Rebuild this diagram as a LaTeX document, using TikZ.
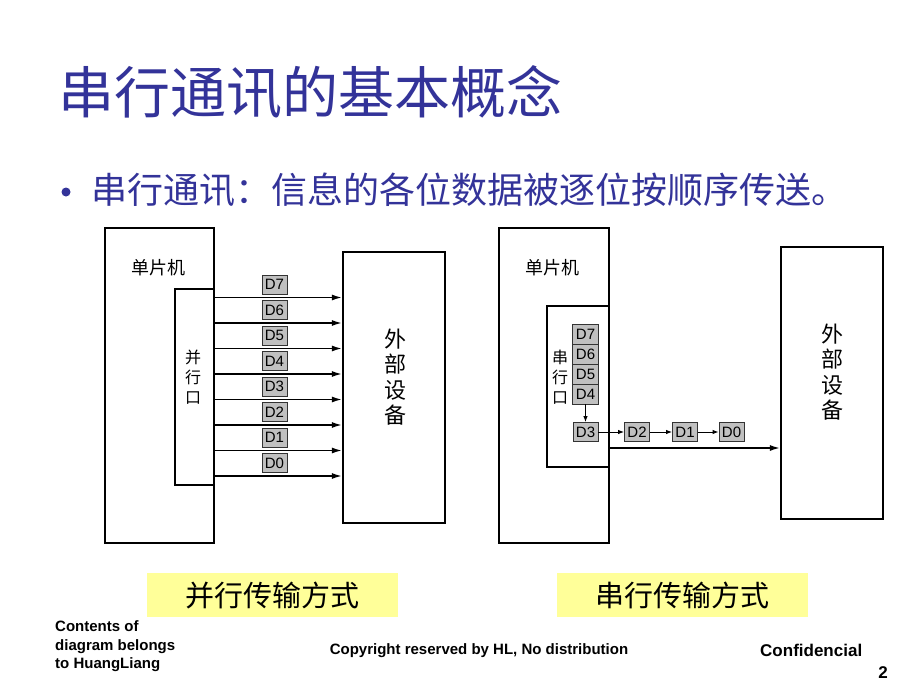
\documentclass[tikz,border=0pt]{standalone}
\usepackage{fontspec}
\setmainfont{Liberation Sans}
\newfontfamily\cjk{Noto Sans CJK SC}
\usetikzlibrary{arrows.meta}
\definecolor{T}{RGB}{51,51,153}
\definecolor{Y}{RGB}{255,255,153}
\definecolor{G}{RGB}{192,192,192}
\newcommand{\fs}[1]{\fontsize{#1}{#1}\selectfont}
\tikzset{
  box/.style={draw, line width=2.2pt, inner sep=0pt},
  portbox/.style={draw, line width=1.2pt, inner sep=0pt},
  databox/.style={draw=black!80, fill=G, line width=0.9pt, minimum width=25, minimum height=19, inner sep=0pt, font=\fs{15}},
  wire/.style={line width=1.5pt, -{Latex[length=10pt,width=6pt]}},
  shiftarrow/.style={line width=0.9pt, -{Latex[length=6pt,width=4.5pt]}},
  tag/.style={fill=Y, minimum width=251, minimum height=44, font=\cjk\fs{29}},
  vlabel/.style={align=center, inner sep=0pt},
}
\begin{document}
\begin{tikzpicture}[x=1pt,y=-1pt]
\fill[white] (0,0) rectangle (920,690);
\useasboundingbox (0,0) rectangle (920,690);
% title and bullet
\node[anchor=west, inner sep=0, text=T, font=\cjk\fs{56}] (title) at (58,92) {串行通讯的基本概念};
\node[circle, fill=T, minimum size=9, inner sep=0] (dot) at (66,192) {};
\node[anchor=west, inner sep=0, text=T, font=\cjk\fs{36}] (bullet) at (91,190) {串行通讯：信息的各位数据被逐位按顺序传送。};
% parallel
\node[box, minimum width=109, minimum height=315] (mcuL) at (159.5,385.5) {};
\node[font=\cjk\fs{18}] (nameL) at (158,268) {单片机};
\node[portbox, minimum width=39, minimum height=196] (portL) at (194.5,387) {};
\node[vlabel, font=\cjk\fontsize{16}{20}\selectfont] (plabL) at (193,377) {并\\行\\口};
\node[box, minimum width=102, minimum height=271] (extL) at (394,387.5) {};
\node[vlabel, font=\cjk\fontsize{22}{25.5}\selectfont] (elabL) at (395,377) {外\\部\\设\\备};
\foreach \i in {0,...,7}{
  \coordinate (w\i) at (0,476-25.5*\i);
  \node[databox] (d\i) at (274.5,463-25.5*\i) {D\i};
  \draw[wire] (portL.east |- w\i) -- (extL.west |- w\i);
}
% serial
\node[box, minimum width=110, minimum height=315] (mcuR) at (554,385.5) {};
\node[font=\cjk\fs{18}] (nameR) at (552,268) {单片机};
\node[portbox, minimum width=62, minimum height=161] (portR) at (578,386.5) {};
\node[vlabel, font=\cjk\fontsize{16}{20}\selectfont] (plabR) at (560,377) {串\\行\\口};
\foreach \i [count=\k from 0] in {7,6,5,4}{
  \node[databox, minimum width=26, minimum height=20] (s\i) at (585.5,334+20*\k) {D\i};
}
\node[databox] (s3) at (585.5,432) {D3};
\node[databox] (s2) at (637,432) {D2};
\node[databox] (s1) at (685,432) {D1};
\node[databox] (s0) at (731.5,432) {D0};
\draw[shiftarrow] (s4) -- (s3);
\draw[shiftarrow] (s3) -- (s2);
\draw[shiftarrow] (s2) -- (s1);
\draw[shiftarrow] (s1) -- (s0);
\node[box, minimum width=102, minimum height=272] (extR) at (832,383) {};
\node[vlabel, font=\cjk\fontsize{22}{25.5}\selectfont] (elabR) at (832,372) {外\\部\\设\\备};
\coordinate (sw) at (0,448);
\draw[wire] (portR.east |- sw) -- (extR.west |- sw);
% captions
\node[tag] (tagL) at (272.5,595) {并行传输方式};
\node[tag] (tagR) at (682.5,595) {串行传输方式};
% footer
\node[anchor=west, align=left, inner sep=0, font=\bfseries\fontsize{15}{18.5}\selectfont] (own) at (55,646.5) {Contents of\\diagram belongs\\to HuangLiang};
\node[font=\bfseries\fs{15}] (copy) at (479,651) {Copyright reserved by HL, No distribution};
\node[anchor=west, inner sep=0, font=\bfseries\fs{17}] (conf) at (760,650) {Confidencial};
\node[font=\bfseries\fs{17}] (page) at (883,673) {2};
\end{tikzpicture}
\end{document}
